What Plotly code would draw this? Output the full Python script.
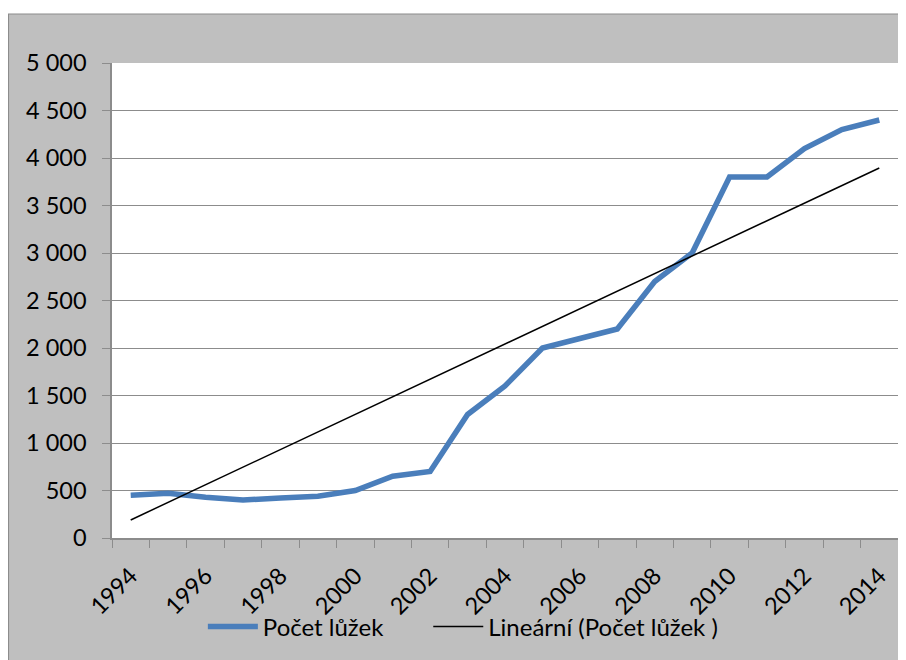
import plotly.graph_objects as go

years = list(range(1994, 2015))
beds = [450, 470, 430, 400, 420, 440, 500, 650, 700, 1300, 1600,
        2000, 2100, 2200, 2700, 3000, 3800, 3800, 4100, 4300, 4400]
trend_years = [1994, 2014]
trend_values = [190, 3895]
label_years = list(range(1994, 2015, 2))
y_ticks = list(range(0, 5001, 500))

FONT = "Lato"
GRID = "#8c8c8c"

fig = go.Figure()
fig.add_trace(go.Scatter(
    x=years, y=beds, mode="lines", name="Počet lůžek",
    line=dict(color="#4a7ebb", width=5.5), legend="legend",
))
fig.add_trace(go.Scatter(
    x=trend_years, y=trend_values, mode="lines",
    name="Lineární (Počet lůžek )",
    line=dict(color="#000000", width=1.5), legend="legend2",
))

legend_style = dict(
    orientation="h", xref="container", yref="container",
    xanchor="left", y=0.0506, yanchor="middle",
    bgcolor="rgba(0,0,0,0)", font=dict(family=FONT, size=24),
    itemwidth=50,
)

fig.update_layout(
    width=898, height=652,
    margin=dict(l=104, r=8, t=55, b=122, autoexpand=False),
    paper_bgcolor="white",
    plot_bgcolor="white",
    separators=", ",
    font=dict(family=FONT, size=23.5, color="#000000"),
    showlegend=True,
    legend=dict(x=0.217, **legend_style),
    legend2=dict(x=0.468, **legend_style),
    shapes=[
        dict(type="rect", xref="paper", yref="paper",
             x0=-0.1317, x1=1.03, y0=-0.35, y1=1.1032,
             fillcolor="#bfbfbf", line=dict(color="#8c8c8c", width=1.2),
             layer="below"),
        dict(type="rect", xref="paper", yref="paper",
             x0=0, x1=1, y0=0, y1=1,
             fillcolor="white", line=dict(width=0),
             layer="below"),
    ],
)

fig.update_xaxes(
    range=[1993.5, 2014.5],
    tickmode="array", tickvals=label_years, ticktext=[str(y) for y in label_years],
    tickangle=-45, ticks="", ticklen=0, ticklabelstandoff=13,
    showgrid=False, zeroline=False,
    showline=True, linecolor=GRID, linewidth=1.5,
    tickfont=dict(family=FONT, size=23.5),
    minor=dict(tickvals=[y + 0.5 for y in range(1993, 2015)], ticks="outside",
               ticklen=8, tickcolor=GRID, tickwidth=1.3, showgrid=False),
)
fig.update_yaxes(
    range=[0, 5000], tickmode="array", tickvals=y_ticks,
    tickformat=",d", ticks="outside", ticklen=8, tickcolor=GRID, tickwidth=1.3,
    ticklabelstandoff=11,
    showgrid=True, gridcolor=GRID, gridwidth=1.3,
    zeroline=False, showline=True, linecolor=GRID, linewidth=1.5,
    tickfont=dict(family=FONT, size=23.5),
)

fig.write_html("out.html")
